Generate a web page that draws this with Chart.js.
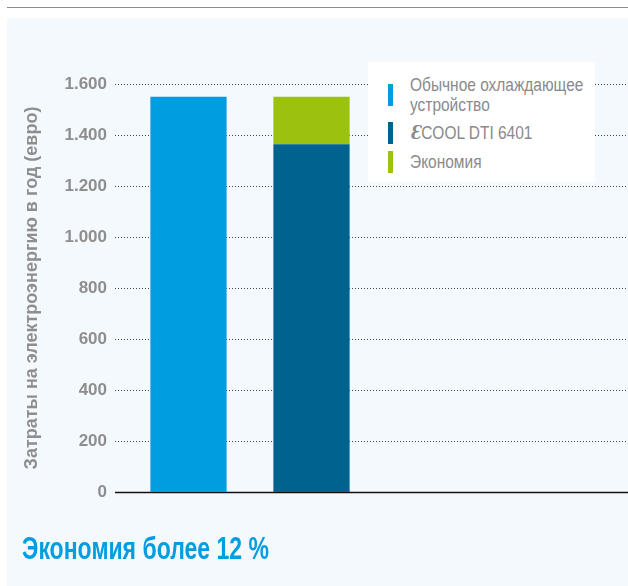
<!DOCTYPE html>
<html>
<head>
<meta charset="utf-8">
<script src="https://cdn.jsdelivr.net/npm/chart.js@4/dist/chart.umd.min.js"></script>
<style>
  body { margin: 0; background: #fff; }
  #wrap { position: relative; width: 628px; height: 586px; overflow: hidden; font-family: "Liberation Sans", Arial, sans-serif; }
  #rule { position: absolute; left: 7px; top: 7px; width: 621px; height: 1px; background: #8c8c8c; }
  #panel { position: absolute; left: 7px; top: 18px; width: 621px; height: 568px; background: #f4f9fe; }
  #box { position: absolute; left: 0; top: 0; width: 628px; height: 586px; }
  #legend { position: absolute; left: 368px; top: 62px; width: 227px; height: 120px; background: #fff; box-sizing: border-box; padding: 13px 0 0 20px; }
  .item { display: flex; align-items: center; margin-bottom: 7px; font-size: 18px; line-height: 20px; color: #8a8a8a; }
  .mark { flex: none; width: 5px; height: 22px; margin-right: 17px; }
  .txt { flex: none; display: inline-block; width: 205px; transform: scaleX(0.86); transform-origin: left top; }
  .ep { font-family: "DejaVu Serif", serif; font-style: italic; font-weight: bold; }
  #note { position: absolute; left: 22px; top: 530px; font-weight: bold; font-size: 32px; color: #009ee0; white-space: nowrap; transform: scaleX(0.72); transform-origin: left top; }
</style>
</head>
<body>
<div id="wrap">
  <div id="rule"></div>
  <div id="panel"></div>
  <div id="box"><canvas id="chart"></canvas></div>
  <div id="legend"></div>
  <div id="note">Экономия более 12 %</div>
</div>
<script>
// categories on the x axis (the two empty slots keep the bars on the left)
const categories = ['Обычное', 'ECOOL', '', ''];
// yearly electricity cost, euro
const conventionalCost = [1550, null, null, null];
const ecoolCost = [null, 1364, null, null];
const savings = [null, 186, null, null];
const seriesNames = ['Обычное охлаждающее устройство', 'ƐCOOL DTI 6401', 'Экономия'];
const seriesColors = ['#009ee0', '#00638f', '#9bc20e'];
const yMin = 0, yMax = 1600, yStep = 200;
const yTitle = 'Затраты на электроэнергию в год (евро)';

// dotted rules across the whole width, solid one at zero
const rules = {
  id: 'rules',
  beforeDatasetsDraw(chart) {
    const y = chart.scales.y, ctx = chart.ctx;
    const x0 = chart.chartArea.left - 12, x1 = chart.width;
    ctx.save();
    y.ticks.forEach(t => {
      const py = Math.round(y.getPixelForValue(t.value)) + 0.5;
      ctx.beginPath();
      if (t.value === 0) {
        ctx.setLineDash([]);
        ctx.strokeStyle = '#111';
        ctx.lineWidth = 1.5;
      } else {
        ctx.setLineDash([1, 2]);
        ctx.strokeStyle = '#444';
        ctx.lineWidth = 1;
      }
      ctx.moveTo(x0, py);
      ctx.lineTo(x1, py);
      ctx.stroke();
    });
    ctx.restore();
  }
};

new Chart(document.getElementById('chart'), {
  type: 'bar',
  data: {
    labels: categories,
    datasets: [
      {label: seriesNames[0], data: conventionalCost, backgroundColor: seriesColors[0]},
      {label: seriesNames[1], data: ecoolCost, backgroundColor: seriesColors[1]},
      {label: seriesNames[2], data: savings, backgroundColor: seriesColors[2]}
    ]
  },
  options: {
    responsive: true,
    maintainAspectRatio: false,
    animation: false,
    layout: {padding: {top: 84, bottom: 94, left: 0, right: 9}},
    datasets: {bar: {barPercentage: 0.62, categoryPercentage: 1}},
    scales: {
      x: {stacked: true, display: false},
      y: {
        stacked: true,
        min: yMin, max: yMax,
        afterFit: s => { s.width = 127; },
        grid: {display: false, drawTicks: false},
        border: {display: false},
        ticks: {
          stepSize: yStep,
          padding: 20,
          color: '#8e8e8e',
          font: {family: 'Liberation Sans', weight: 'bold', size: 17},
          callback: v => v.toLocaleString('de-DE')
        },
        title: {
          display: true,
          text: yTitle,
          color: '#8e8e8e',
          padding: {top: 21, bottom: 0},
          font: {family: 'Liberation Sans', weight: 'bold', size: 18}
        }
      }
    },
    plugins: {legend: {display: false}, tooltip: {enabled: false}}
  },
  plugins: [rules]
});

// legend box
const legend = document.getElementById('legend');
seriesNames.forEach((name, i) => {
  const row = document.createElement('div');
  row.className = 'item';
  const mark = document.createElement('span');
  mark.className = 'mark';
  mark.style.background = seriesColors[i];
  const txt = document.createElement('span');
  txt.className = 'txt';
  if (name.startsWith('Ɛ')) {
    const ep = document.createElement('span');
    ep.className = 'ep';
    ep.textContent = 'Ɛ';
    txt.appendChild(ep);
    txt.appendChild(document.createTextNode(name.slice(1)));
  } else {
    txt.textContent = name;
  }
  row.appendChild(mark);
  row.appendChild(txt);
  legend.appendChild(row);
});
</script>
</body>
</html>
